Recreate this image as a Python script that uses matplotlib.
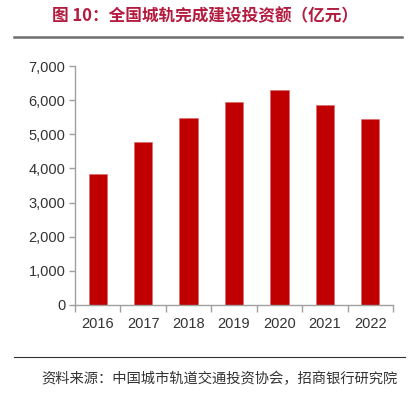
import matplotlib.pyplot as plt
import numpy as np
from matplotlib.lines import Line2D
from matplotlib.ticker import FuncFormatter

# data (亿元)
years = ['2016', '2017', '2018', '2019', '2020', '2021', '2022']
invest = [3847, 4762, 5470, 5959, 6286, 5860, 5443]
y_ticks = [0, 1000, 2000, 3000, 4000, 5000, 6000, 7000]

title = '图 10：全国城轨完成建设投资额（亿元）'
source = '资料来源：中国城市轨道交通投资协会，招商银行研究院'

cjk = ['Noto Sans CJK SC', 'DejaVu Sans']
W, H = 410, 395

fig = plt.figure(figsize=(W / 100, H / 100), dpi=100)
ax = fig.add_axes([75 / W, 1 - 305 / H, (393 - 75) / W, (305 - 66) / H])

x = np.arange(len(years))
ax.bar(x, invest, width=0.4, color='#C00000', edgecolor='#D86A6A', linewidth=0.4)

ax.set_xlim(-0.5, len(years) - 0.5)
ax.set_ylim(0, 7000)
ax.set_yticks(y_ticks)
ax.yaxis.set_major_formatter(FuncFormatter(lambda v, p: f'{int(v):,}'))

# category labels in the middle, tick marks on the boundaries
ax.set_xticks(x)
ax.set_xticklabels(years)
ax.set_xticks(np.arange(-0.5, len(years)), minor=True)
ax.tick_params(axis='x', which='major', length=0, pad=9)
ax.tick_params(axis='x', which='minor', length=5, color='#A0A0A0', width=1)
ax.tick_params(axis='y', length=4, color='#A0A0A0', width=1, pad=3)

for lab in ax.get_xticklabels() + ax.get_yticklabels():
    lab.set_family('Liberation Sans')
    lab.set_fontsize(10.5)
    lab.set_color('#333333')

for s in ['top', 'right']:
    ax.spines[s].set_visible(False)
for s in ['left', 'bottom']:
    ax.spines[s].set_color('#A0A0A0')
    ax.spines[s].set_linewidth(1)

# title, rules and source
fig.text(205 / W, 1 - 16 / H, title, ha='center', va='center', fontsize=12,
         fontweight='bold', color='#B31B3F', family=cjk)
fig.add_artist(Line2D([14 / W, 402 / W], [1 - 37 / H, 1 - 37 / H],
                      color='#6E6E6E', linewidth=1.8, transform=fig.transFigure))
fig.add_artist(Line2D([14 / W, 405 / W], [1 - 357 / H, 1 - 357 / H],
                      color='#333333', linewidth=0.8, transform=fig.transFigure))
fig.text(41 / W, 1 - 379 / H, source, ha='left', va='center', fontsize=10.3,
         color='#333333', family=cjk)

fig.savefig('out.png', dpi=100)
